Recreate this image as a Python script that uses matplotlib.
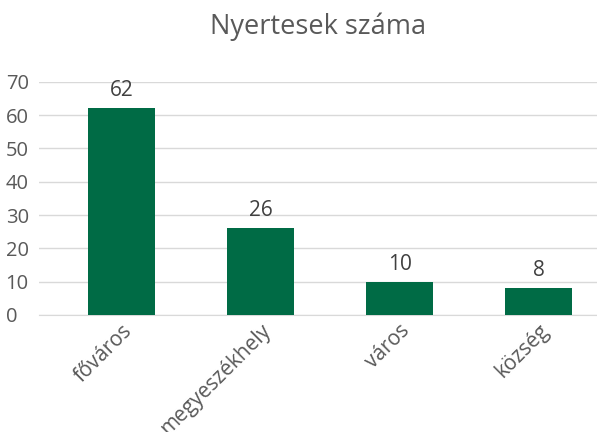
import matplotlib
matplotlib.use("Agg")
import matplotlib.pyplot as plt

# data
categories = ["főváros", "megyeszékhely", "város", "község"]
winners = [62, 26, 10, 8]
yticks = [0, 10, 20, 30, 40, 50, 60, 70]

plt.rcParams['font.family'] = ['Open Sans', 'DejaVu Sans']

fig = plt.figure(figsize=(5.97, 4.32), dpi=100)
# plot area runs to the right edge of the picture
ax = fig.add_axes([39 / 597, 1 - 315 / 432, 558 / 597, (315 - 81.7) / 432])

x = range(len(categories))
bars = ax.bar(x, winners, width=0.48, color="#006B45", zorder=3)

for b, v in zip(bars, winners):
    ax.annotate(str(v), (b.get_x() + b.get_width() / 2, v),
                xytext=(0, 5), textcoords="offset points",
                ha="center", va="bottom", fontsize=15, color="#404040")

ax.set_xlim(-0.594, 3.421)
ax.set_ylim(0, 70)
ax.set_yticks(yticks)
ax.set_yticklabels([str(t) for t in yticks], fontsize=14.5, color="#595959")
ax.set_xticks(list(x))
ax.set_xticklabels(categories, fontsize=15, color="#595959",
                   rotation=45, ha="right", rotation_mode="anchor")
ax.tick_params(axis="both", length=0)
ax.tick_params(axis="y", pad=24)
ax.tick_params(axis="x", pad=4)
for lbl in ax.get_yticklabels():
    lbl.set_horizontalalignment("left")

ax.grid(axis="y", color="#D9D9D9", linewidth=1, zorder=0)
for s in ["top", "right", "left"]:
    ax.spines[s].set_visible(False)
ax.spines["bottom"].set_color("#D9D9D9")

fig.text(318 / 597, 1 - 27 / 432, "Nyertesek száma", ha="center", va="center",
         fontsize=19.5, color="#595959")

fig.savefig("out.png", dpi=100)
